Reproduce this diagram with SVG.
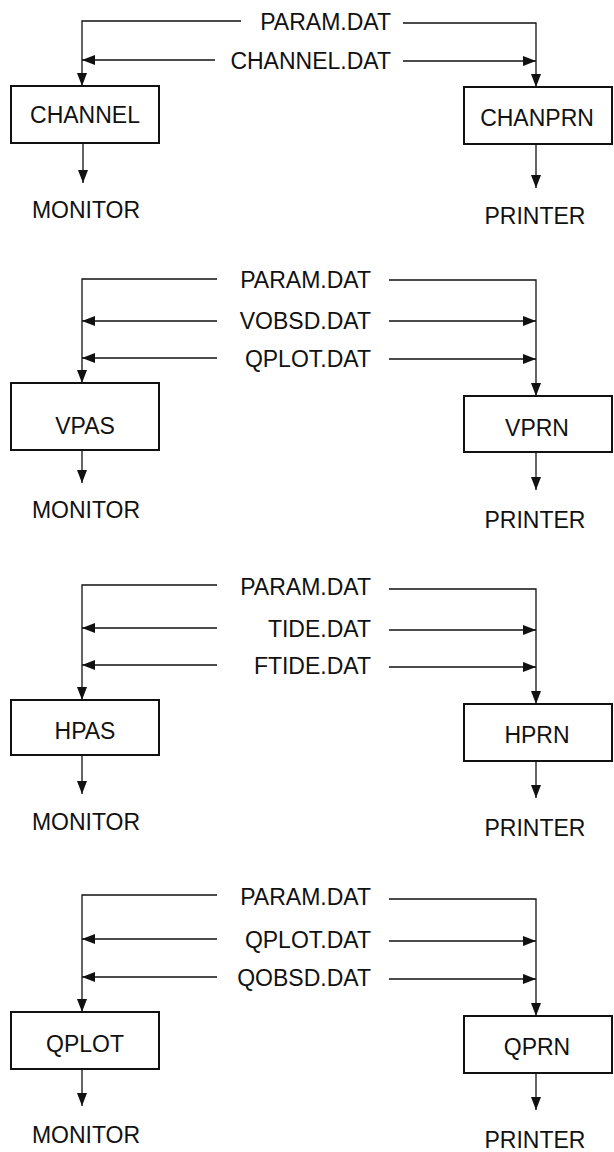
<svg xmlns="http://www.w3.org/2000/svg" width="614" height="1152" viewBox="0 0 614 1152">
<style>
.t{font-family:"Liberation Sans",Arial,sans-serif;font-size:23px;fill:#111}
.m{text-anchor:middle}
.e{text-anchor:end}
.box{fill:#fff;stroke:#111;stroke-width:2}
.ln{fill:none;stroke:#111;stroke-width:1.3;marker-end:url(#ah)}
</style>
<defs>
<marker id="ah" viewBox="0 0 13 10" refX="13" refY="5" markerWidth="13" markerHeight="10" markerUnits="userSpaceOnUse" orient="auto">
<path d="M0,0 L13,5 L0,10 z" fill="#111"/>
</marker>
</defs>
<rect width="614" height="1152" fill="#fff"/>

<g id="connectors">
<!-- section 1 -->
<polyline class="ln" points="241,21 82,21 82,86"/>
<polyline class="ln" points="403,23 536,23 536,87"/>
<line class="ln" x1="215" y1="60" x2="82" y2="60"/>
<line class="ln" x1="403" y1="61" x2="536" y2="61"/>
<line class="ln" x1="83" y1="143" x2="83" y2="183"/>
<line class="ln" x1="536" y1="144" x2="536" y2="188"/>
<!-- section 2 -->
<polyline class="ln" points="217,279 82,279 82,383"/>
<polyline class="ln" points="389,280 536,280 536,396"/>
<line class="ln" x1="217" y1="321" x2="82" y2="321"/>
<line class="ln" x1="389" y1="321" x2="536" y2="321"/>
<line class="ln" x1="217" y1="358" x2="82" y2="358"/>
<line class="ln" x1="389" y1="359" x2="536" y2="359"/>
<line class="ln" x1="82" y1="450" x2="82" y2="483"/>
<line class="ln" x1="536" y1="452" x2="536" y2="490"/>
<!-- section 3 -->
<polyline class="ln" points="217,585 82,585 82,700"/>
<polyline class="ln" points="389,589 536,589 536,704"/>
<line class="ln" x1="217" y1="628" x2="82" y2="628"/>
<line class="ln" x1="389" y1="630" x2="536" y2="630"/>
<line class="ln" x1="217" y1="665" x2="82" y2="665"/>
<line class="ln" x1="389" y1="667" x2="536" y2="667"/>
<line class="ln" x1="82" y1="755" x2="82" y2="794"/>
<line class="ln" x1="536" y1="761" x2="536" y2="798"/>
<!-- section 4 -->
<polyline class="ln" points="217,895 82,895 82,1012"/>
<polyline class="ln" points="389,899 536,899 536,1016"/>
<line class="ln" x1="217" y1="939" x2="82" y2="939"/>
<line class="ln" x1="389" y1="941" x2="536" y2="941"/>
<line class="ln" x1="217" y1="977" x2="82" y2="977"/>
<line class="ln" x1="389" y1="979" x2="536" y2="979"/>
<line class="ln" x1="82" y1="1069" x2="82" y2="1106"/>
<line class="ln" x1="536" y1="1073" x2="536" y2="1110"/>
</g>

<g id="labels">
<text class="t e" x="391" y="30">PARAM.DAT</text>
<text class="t e" x="391" y="69">CHANNEL.DAT</text>
<text class="t e" x="371" y="288">PARAM.DAT</text>
<text class="t e" x="371" y="329">VOBSD.DAT</text>
<text class="t e" x="371" y="367">QPLOT.DAT</text>
<text class="t e" x="371" y="595">PARAM.DAT</text>
<text class="t e" x="371" y="637">TIDE.DAT</text>
<text class="t e" x="371" y="674">FTIDE.DAT</text>
<text class="t e" x="371" y="905">PARAM.DAT</text>
<text class="t e" x="371" y="948">QPLOT.DAT</text>
<text class="t e" x="371" y="986">QOBSD.DAT</text>
</g>

<g id="channel"><rect class="box" x="11" y="86" width="148" height="57"/><text class="t m" x="85" y="123">CHANNEL</text></g>
<g id="chanprn"><rect class="box" x="464" y="87" width="148" height="57"/><text class="t m" x="537" y="126">CHANPRN</text></g>
<g id="monitor1"><text class="t m" x="86" y="218">MONITOR</text></g>
<g id="printer1"><text class="t m" x="535" y="224">PRINTER</text></g>

<g id="vpas"><rect class="box" x="11" y="383" width="148" height="67"/><text class="t m" x="85" y="434">VPAS</text></g>
<g id="vprn"><rect class="box" x="464" y="396" width="148" height="56"/><text class="t m" x="537" y="436">VPRN</text></g>
<g id="monitor2"><text class="t m" x="86" y="518">MONITOR</text></g>
<g id="printer2"><text class="t m" x="535" y="528">PRINTER</text></g>

<g id="hpas"><rect class="box" x="11" y="700" width="148" height="55"/><text class="t m" x="85" y="739">HPAS</text></g>
<g id="hprn"><rect class="box" x="464" y="704" width="148" height="57"/><text class="t m" x="537" y="743">HPRN</text></g>
<g id="monitor3"><text class="t m" x="86" y="830">MONITOR</text></g>
<g id="printer3"><text class="t m" x="535" y="836">PRINTER</text></g>

<g id="qplot"><rect class="box" x="11" y="1012" width="148" height="57"/><text class="t m" x="85" y="1052">QPLOT</text></g>
<g id="qprn"><rect class="box" x="464" y="1016" width="148" height="57"/><text class="t m" x="537" y="1055">QPRN</text></g>
<g id="monitor4"><text class="t m" x="86" y="1143">MONITOR</text></g>
<g id="printer4"><text class="t m" x="535" y="1148">PRINTER</text></g>
</svg>
